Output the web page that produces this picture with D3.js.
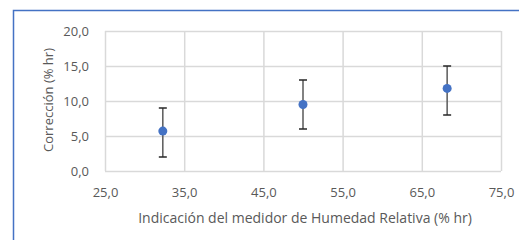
<!DOCTYPE html>
<html>
<head>
<meta charset="utf-8">
<script src="https://cdn.jsdelivr.net/npm/d3@7"></script>
<style>
  body { margin: 0; background: #fff; }
  text { font-family: "Open Sans", sans-serif; fill: #595959; }
</style>
</head>
<body>
<div id="chart"></div>
<script>
// data
var humedad = [32.3, 50.0, 68.2];
var correccion = [5.7, 9.5, 11.8];
var errAlto = [9.0, 13.0, 15.0];
var errBajo = [2.0, 6.0, 8.0];
var xTicks = [25, 35, 45, 55, 65, 75];
var yTicks = [0, 5, 10, 15, 20];

var W = 519, H = 240;
var margin = {top: 31, right: 18, bottom: 69, left: 105},
    width = W - margin.left - margin.right,
    height = H - margin.top - margin.bottom;

var svg = d3.select("#chart")
  .append("svg")
    .attr("width", W)
    .attr("height", H);

// chart outline (blue, runs off the right/bottom)
svg.append("rect")
  .attr("x", 13.5).attr("y", 10.5)
  .attr("width", W).attr("height", H)
  .attr("fill", "none")
  .attr("stroke", "#4472C4")
  .attr("stroke-width", 1.5);

var g = svg.append("g")
  .attr("transform", "translate(" + margin.left + "," + margin.top + ")");

var x = d3.scaleLinear().domain([25, 75]).range([0, width]);
var y = d3.scaleLinear().domain([0, 20]).range([height, 0]);

var fmt = function(d) { return d3.format(".1f")(d).replace(".", ","); };

// grid
g.append("g")
  .attr("transform", "translate(0," + height + ")")
  .call(d3.axisBottom(x).tickValues(xTicks).tickSize(-height).tickFormat(fmt).tickPadding(17))
  .call(function(a) {
    a.select(".domain").remove();
    a.selectAll("line").attr("stroke", "#D9D9D9").attr("stroke-width", 1.5);
    a.selectAll("text").style("font-size", "13px").attr("fill", "#595959");
  });

g.append("g")
  .call(d3.axisLeft(y).tickValues(yTicks).tickSize(-width).tickFormat(fmt).tickPadding(16))
  .call(function(a) {
    a.select(".domain").remove();
    a.selectAll("line").attr("stroke", "#D9D9D9").attr("stroke-width", 1.5);
    a.selectAll("text").style("font-size", "13px").attr("fill", "#595959");
  });

// error bars
var pts = humedad.map(function(h, i) {
  return {x: h, y: correccion[i], hi: errAlto[i], lo: errBajo[i]};
});

var eb = g.append("g").selectAll("g")
  .data(pts)
  .enter().append("g");

eb.append("line")
  .attr("x1", function(d) { return x(d.x); })
  .attr("x2", function(d) { return x(d.x); })
  .attr("y1", function(d) { return y(d.hi); })
  .attr("y2", function(d) { return y(d.lo); })
  .attr("stroke", "#595959").attr("stroke-width", 1.5);

["hi", "lo"].forEach(function(k) {
  eb.append("line")
    .attr("x1", function(d) { return x(d.x) - 4; })
    .attr("x2", function(d) { return x(d.x) + 4; })
    .attr("y1", function(d) { return y(d[k]); })
    .attr("y2", function(d) { return y(d[k]); })
    .attr("stroke", "#262626").attr("stroke-width", 1.5);
});

// points
g.append("g").selectAll("circle")
  .data(pts)
  .enter().append("circle")
    .attr("cx", function(d) { return x(d.x); })
    .attr("cy", function(d) { return y(d.y); })
    .attr("r", 4.5)
    .attr("fill", "#4472C4");

// axis titles
svg.append("text")
  .attr("x", 305)
  .attr("y", 223)
  .attr("text-anchor", "middle")
  .style("font-size", "14px")
  .text("Indicación del medidor de Humedad Relativa (% hr)");

svg.append("text")
  .attr("transform", "translate(53,100) rotate(-90)")
  .attr("text-anchor", "middle")
  .style("font-size", "13px")
  .text("Corrección (% hr)");
</script>
</body>
</html>
